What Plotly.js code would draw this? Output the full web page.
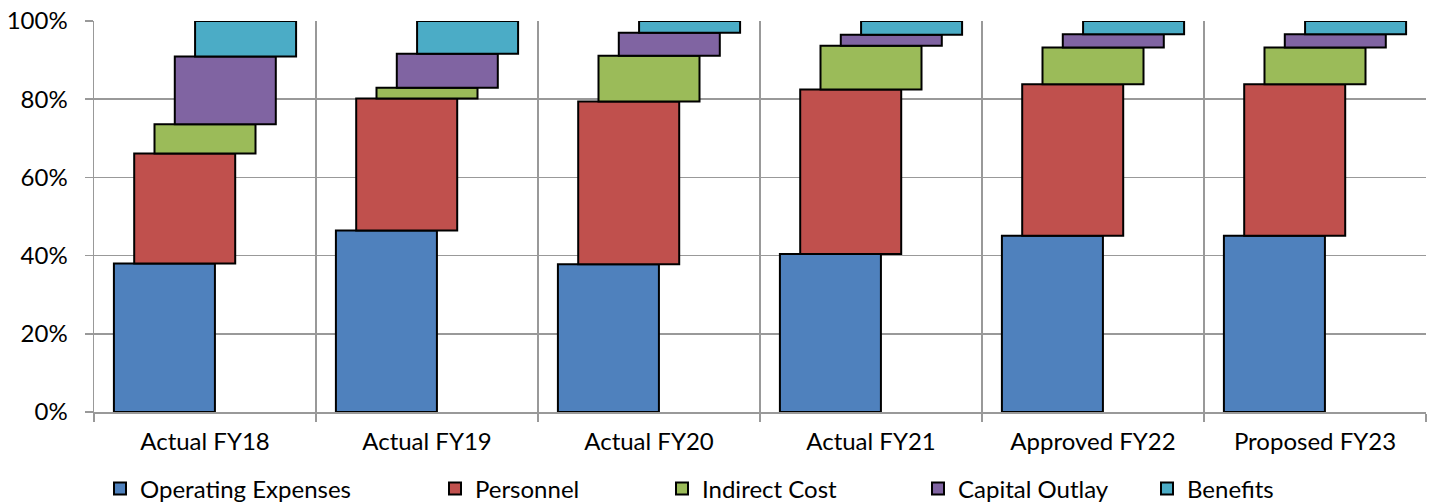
<!DOCTYPE html>
<html>
<head>
<meta charset="utf-8">
<script src="https://cdn.plot.ly/plotly-3.0.1.min.js"></script>
<style>html,body{margin:0;padding:0;background:#fff;}#chart{width:1433px;height:502px;}</style>
</head>
<body>
<div id="chart"></div>
<script>
const categories = ["Actual FY18", "Actual FY19", "Actual FY20", "Actual FY21", "Approved FY22", "Proposed FY23"];
const seriesNames = ["Operating Expenses", "Personnel", "Indirect Cost", "Capital Outlay", "Benefits"];
const operatingExpenses = [38.0, 46.4, 37.8, 40.4, 45.1, 45.1];
const personnel         = [28.1, 33.8, 41.6, 42.1, 38.7, 38.7];
const indirectCost      = [7.5,  2.7,  11.7, 11.2, 9.4,  9.4];
const capitalOutlay     = [17.3, 8.7,  5.9,  2.8,  3.4,  3.4];
const benefits          = [9.1,  8.4,  3.0,  3.5,  3.4,  3.4];
const yTickVals = [0, 20, 40, 60, 80, 100];
const yTickText = ["0%", "20%", "40%", "60%", "80%", "100%"];

const seriesValues = [operatingExpenses, personnel, indirectCost, capitalOutlay, benefits];
const colors = ["#4F81BD", "#C0504D", "#9BBB59", "#8064A2", "#4BACC6"];
const legendX = [121, 456, 683, 939, 1168];

const FONT = "Lato, 'Open Sans', sans-serif";
const FS = 24;
const W = 1433, H = 502, L = 94, R = 7;
const barW = 0.455, step = 0.0914;

const cum = categories.map(() => 0);
const traces = seriesValues.map((vals, k) => {
  const base = cum.slice();
  vals.forEach((v, i) => { cum[i] += v; });
  return {
    type: "bar",
    name: seriesNames[k],
    x: categories,
    y: vals,
    base: base,
    width: barW,
    offset: -barW / 2 + (k - 2) * step,
    marker: {color: colors[k], line: {color: "#000", width: 2}},
    legend: k === 0 ? "legend" : "legend" + (k + 1),
    hoverinfo: "name+y"
  };
});

const layout = {
  width: W, height: H,
  margin: {l: L, r: R, t: 21, b: 90, autoexpand: false},
  barmode: "overlay",
  paper_bgcolor: "#fff", plot_bgcolor: "#fff",
  font: {family: FONT, size: FS, color: "#000"},
  xaxis: {
    type: "category", range: [-0.5, 5.5],
    tickson: "boundaries", ticks: "outside", ticklen: 8, tickcolor: "#999", tickwidth: 1.5,
    showgrid: true, gridcolor: "#999", gridwidth: 1.5,
    showline: true, linecolor: "#999", linewidth: 1.5,
    tickfont: {family: FONT, size: FS, color: "#000"},
    ticklabelstandoff: 8,
    automargin: false,
    fixedrange: true
  },
  yaxis: {
    range: [0, 100], tickvals: yTickVals, ticktext: yTickText,
    ticks: "outside", ticklen: 8, tickcolor: "#999", tickwidth: 1.5,
    showgrid: true, gridcolor: "#999", gridwidth: 1.5,
    showline: true, linecolor: "#999", linewidth: 1.5,
    zeroline: false,
    tickfont: {family: FONT, size: FS, color: "#000"},
    ticklabelstandoff: 12,
    automargin: false,
    fixedrange: true
  },
  showlegend: true
};
seriesNames.forEach((n, k) => {
  const key = k === 0 ? "legend" : "legend" + (k + 1);
  layout[key] = {
    xref: "container", yref: "container",
    x: (legendX[k] - 21) / W, xanchor: "left",
    y: (H - 489) / H, yanchor: "middle",
    orientation: "h",
    font: {family: FONT, size: FS, color: "#000"},
    bgcolor: "rgba(0,0,0,0)", borderwidth: 0,
    itemclick: false, itemdoubleclick: false
  };
});

Plotly.newPlot("chart", traces, layout, {displayModeBar: false, staticPlot: true});
</script>
</body>
</html>
